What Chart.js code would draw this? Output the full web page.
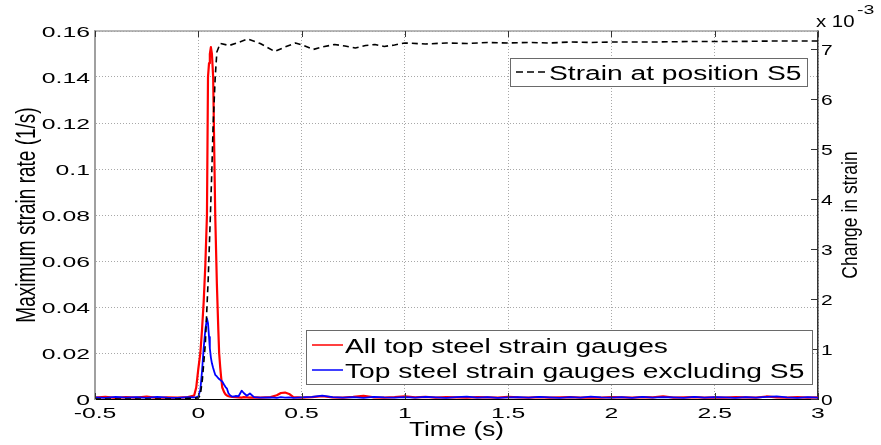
<!DOCTYPE html>
<html>
<head>
<meta charset="utf-8">
<title>Strain rate and strain at S5</title>
<script src="https://cdn.jsdelivr.net/npm/chart.js@4.4.1/dist/chart.umd.min.js"></script>
<style>
  html, body { margin: 0; padding: 0; background: #fff; }
  #wrap { width: 881px; height: 445px; }
</style>
</head>
<body>
<div id="wrap"><canvas id="strain-chart"></canvas></div>
<script>
// time (s) for the two strain-rate traces
const rateTime = [
  -0.5, -0.45, -0.4, -0.35, -0.3, -0.25, -0.2, -0.15, -0.1, -0.05,
  -0.02, -0.01, 0,
  0.01, 0.018, 0.026, 0.034, 0.042, 0.047, 0.052, 0.056, 0.061, 0.066,
  0.072, 0.077, 0.082, 0.09, 0.097, 0.101, 0.106, 0.11, 0.116, 0.125,
  0.132, 0.139, 0.146, 0.155, 0.165, 0.18, 0.195, 0.21, 0.22, 0.235,
  0.25, 0.27, 0.3, 0.35, 0.38, 0.4, 0.42, 0.44, 0.46,
  0.5, 0.55, 0.6, 0.65, 0.7, 0.75, 0.8, 0.85, 0.9, 0.95, 1,
  1.05, 1.1, 1.15, 1.2, 1.25, 1.3, 1.35, 1.4, 1.45, 1.5,
  1.55, 1.6, 1.65, 1.7, 1.75, 1.8, 1.85, 1.9, 1.95, 2,
  2.05, 2.1, 2.15, 2.2, 2.25, 2.3, 2.35, 2.4, 2.45, 2.5,
  2.55, 2.6, 2.65, 2.7, 2.75, 2.8, 2.85, 2.9, 2.95, 3
];

// all top steel strain gauges (1/s)
const allGaugesRate = [
  0.0006, 0.0009, 0.0005, 0.0008, 0.0006, 0.0010, 0.0005, 0.0007, 0.0006, 0.0008,
  0.0015, 0.005, 0.013,
  0.02, 0.03, 0.042, 0.058, 0.08, 0.14, 0.146, 0.15, 0.153, 0.15,
  0.14, 0.11, 0.08, 0.05, 0.03, 0.02, 0.014, 0.01, 0.005, 0.003,
  0.002, 0.0015, 0.0012, 0.001, 0.0009, 0.0008, 0.0007, 0.0006, 0.0008, 0.0007,
  0.0006, 0.0007, 0.0006, 0.0008, 0.0016, 0.0026, 0.0028, 0.0022, 0.0008,
  0.0006, 0.0008, 0.0012, 0.0007, 0.0006, 0.0009, 0.0014, 0.0007, 0.0006, 0.0008, 0.0011,
  0.0007, 0.0009, 0.0006, 0.0008, 0.0007, 0.0006, 0.0008, 0.0007, 0.0006, 0.0009,
  0.0007, 0.0006, 0.0008, 0.0006, 0.0007, 0.0008, 0.0006, 0.0007, 0.0006, 0.0008,
  0.0007, 0.0006, 0.0008, 0.0007, 0.0012, 0.0006, 0.0007, 0.0008, 0.0006, 0.0007,
  0.0006, 0.0008, 0.0007, 0.0006, 0.0011, 0.0007, 0.0006, 0.0008, 0.0006, 0.0007
];

// top steel strain gauges excluding S5 (1/s)
const excludingS5Rate = [
  0.0007, 0.0005, 0.0009, 0.0006, 0.0008, 0.0005, 0.0009, 0.0006, 0.0005, 0.0008,
  0.0007, 0.0008, 0.001,
  0.004, 0.012, 0.022, 0.03, 0.035, 0.033, 0.027, 0.022, 0.018, 0.0155,
  0.0135, 0.012, 0.0105, 0.0098, 0.009, 0.0087, 0.0083, 0.008, 0.0076, 0.0062,
  0.0052, 0.0045, 0.0025, 0.0015, 0.001, 0.0013, 0.0012, 0.0036, 0.0026, 0.0014,
  0.0024, 0.0008, 0.0006, 0.0007, 0.0005, 0.0008, 0.0006, 0.0007, 0.0005,
  0.0007, 0.0009, 0.0015, 0.0008, 0.0006, 0.0008, 0.0005, 0.0009, 0.0007, 0.0006, 0.0008,
  0.0006, 0.0009, 0.0007, 0.0005, 0.0008, 0.0010, 0.0006, 0.0008, 0.0005, 0.0007,
  0.0008, 0.0006, 0.0009, 0.0007, 0.0005, 0.0008, 0.0006, 0.0010, 0.0007, 0.0006,
  0.0008, 0.0005, 0.0009, 0.0006, 0.0008, 0.0007, 0.0005, 0.0009, 0.0006, 0.0008,
  0.0007, 0.0005, 0.0008, 0.0006, 0.0009, 0.0011, 0.0007, 0.0005, 0.0008, 0.0006
];

// strain at S5, in units of 10^-3
const strainTime = [
  -0.5, -0.3, -0.1, 0, 0.01, 0.02, 0.034, 0.048, 0.058, 0.065,
  0.072, 0.082, 0.09, 0.106, 0.15, 0.2, 0.24, 0.3, 0.37, 0.42,
  0.47, 0.51, 0.556, 0.6, 0.66, 0.71, 0.76, 0.81, 0.855, 0.9,
  0.95, 1.0, 1.1, 1.2, 1.3, 1.4, 1.5, 1.6, 1.7, 1.8,
  1.9, 2.0, 2.2, 2.4, 2.6, 2.8, 3.0
];
const strainS5 = [
  0, 0, 0, 0.02, 0.08, 0.4, 1.1, 2.4, 3.6, 4.5,
  5.5, 6.45, 6.95, 7.12, 7.08, 7.15, 7.21, 7.12, 6.96, 7.05,
  7.13, 7.08, 7.0, 7.05, 7.1, 7.07, 7.03, 7.08, 7.1, 7.06,
  7.09, 7.13, 7.11, 7.13, 7.12, 7.14, 7.13, 7.14, 7.13, 7.15,
  7.14, 7.15, 7.15, 7.16, 7.16, 7.17, 7.17
];

const xTitle = 'Time (s)';
const yTitle = 'Maximum strain rate (1/s)';
const y2Title = 'Change in strain';

const FONT = '"Liberation Sans", Arial, sans-serif';

// the reference text is drawn wide, so glyphs get a horizontal stretch
function drawText(ctx, text, x, y, size, stretch, align, rotate) {
  ctx.save();
  ctx.translate(x, y);
  ctx.scale(stretch, 1);
  if (rotate) ctx.rotate(rotate);
  ctx.font = size + 'px ' + FONT;
  ctx.textAlign = align || 'left';
  ctx.textBaseline = 'alphabetic';
  ctx.fillStyle = '#000';
  ctx.fillText(text, 0, 0);
  ctx.restore();
}

function fmt(v, digits) {
  return String(Number(v.toFixed(digits)));
}

function legendBox(ctx, x, y, w, h, rows) {
  ctx.save();
  ctx.fillStyle = '#fff';
  ctx.fillRect(x, y, w, h);
  ctx.strokeStyle = '#6a6a6a';
  ctx.lineWidth = 1;
  ctx.strokeRect(x + 0.5, y + 0.5, w, h);
  rows.forEach(r => {
    ctx.beginPath();
    ctx.strokeStyle = r.color;
    ctx.lineWidth = r.width;
    ctx.setLineDash(r.dash || []);
    ctx.moveTo(x + 6, r.y);
    ctx.lineTo(x + 37, r.y);
    ctx.stroke();
    ctx.setLineDash([]);
    drawText(ctx, r.label, x + 39, r.y + 7.5, 20, 1.41, 'left');
  });
  ctx.restore();
}

const matlabDecor = {
  id: 'matlabDecor',
  afterDraw(chart) {
    const ctx = chart.ctx;
    const area = chart.chartArea;
    const sx = chart.scales.x, sy = chart.scales.y, sy2 = chart.scales.y2;
    const ds = chart.data.datasets;

    ctx.save();
    // top edge of the box
    ctx.strokeStyle = '#a0a0a0';
    ctx.lineWidth = 1.5;
    ctx.beginPath();
    ctx.moveTo(area.left, area.top);
    ctx.lineTo(area.right, area.top);
    ctx.stroke();

    // inward tick marks
    ctx.strokeStyle = '#333';
    ctx.lineWidth = 1;
    sx.ticks.forEach(t => {
      const px = Math.round(sx.getPixelForValue(t.value)) + 0.5;
      ctx.beginPath();
      ctx.moveTo(px, area.top);
      ctx.lineTo(px, area.top + 6);
      ctx.moveTo(px, area.bottom);
      ctx.lineTo(px, area.bottom - 6);
      ctx.stroke();
    });
    sy2.ticks.forEach(t => {
      const py = Math.round(sy2.getPixelForValue(t.value)) + 0.5;
      ctx.beginPath();
      ctx.moveTo(area.right, py);
      ctx.lineTo(area.right - 7, py);
      ctx.stroke();
    });
    ctx.restore();

    // tick labels
    sy.ticks.forEach(t => {
      drawText(ctx, fmt(t.value, 2), area.left - 5, sy.getPixelForValue(t.value) + 5.5, 15, 1.65, 'right');
    });
    sx.ticks.forEach(t => {
      drawText(ctx, fmt(t.value, 1), sx.getPixelForValue(t.value), area.bottom + 18.5, 15, 1.65, 'center');
    });
    sy2.ticks.filter(t => t.value <= 7).forEach(t => {
      drawText(ctx, fmt(t.value, 0), area.right + 3, sy2.getPixelForValue(t.value) + 5.5, 15, 1.4, 'left');
    });
    drawText(ctx, 'x 10', area.right - 2, 27, 17, 1.2, 'left');
    drawText(ctx, '-3', area.right + 39, 14, 13, 1.5, 'left');

    // axis titles
    const midY = (area.top + area.bottom) / 2;
    drawText(ctx, xTitle, (area.left + area.right) / 2, 436, 20, 1.31, 'center');
    drawText(ctx, yTitle, 35, midY, 19, 1.48, 'center', -Math.PI / 2);
    drawText(ctx, y2Title, 857, midY, 17.5, 1.3, 'center', -Math.PI / 2);

    // legends
    legendBox(ctx, 510, 58, 297, 28, [
      { label: ds[2].label, color: '#000', width: 1.3, dash: [7, 4], y: 72 }
    ]);
    legendBox(ctx, 306, 330, 506, 54, [
      { label: ds[0].label, color: '#ff0000', width: 1.5, y: 345 },
      { label: ds[1].label, color: '#0000ff', width: 1.5, y: 370 }
    ]);
  }
};

const gridDots = { color: '#a8a8a8', lineWidth: 1, drawTicks: false };

new Chart(document.getElementById('strain-chart'), {
  type: 'line',
  data: {
    datasets: [
      {
        label: 'All top steel strain gauges',
        data: rateTime.map((t, i) => ({ x: t, y: allGaugesRate[i] })),
        borderColor: '#ff0000',
        borderWidth: 2.2,
        yAxisID: 'y',
        order: 2
      },
      {
        label: 'Top steel strain gauges excluding S5',
        data: rateTime.map((t, i) => ({ x: t, y: excludingS5Rate[i] })),
        borderColor: '#0000ff',
        borderWidth: 1.8,
        yAxisID: 'y',
        order: 1
      },
      {
        label: 'Strain at position S5',
        data: strainTime.map((t, i) => ({ x: t, y: strainS5[i] })),
        borderColor: '#000',
        borderWidth: 1.6,
        borderDash: [6, 4],
        yAxisID: 'y2',
        order: 0
      }
    ]
  },
  options: {
    responsive: true,
    maintainAspectRatio: false,
    animation: false,
    layout: { padding: { top: 31 } },
    elements: {
      point: { radius: 0 },
      line: { tension: 0, borderJoinStyle: 'round' }
    },
    plugins: {
      legend: { display: false },
      tooltip: { enabled: false }
    },
    scales: {
      x: {
        type: 'linear',
        min: -0.5,
        max: 3,
        ticks: { stepSize: 0.5, display: false },
        grid: gridDots,
        border: { color: '#000', width: 1, dash: [1, 2] },
        afterFit: s => { s.height = 46; }
      },
      y: {
        position: 'left',
        min: 0,
        max: 0.16,
        ticks: { stepSize: 0.02, display: false },
        grid: gridDots,
        border: { color: '#a0a0a0', width: 2, dash: [1, 2] },
        afterFit: s => { s.width = 95; }
      },
      y2: {
        position: 'right',
        min: 0,
        max: 7.37,
        ticks: { stepSize: 1, display: false, includeBounds: false },
        grid: { drawOnChartArea: false, drawTicks: false },
        border: { color: '#333', width: 1.5 },
        afterFit: s => { s.width = 63; }
      }
    }
  },
  plugins: [matlabDecor]
});
</script>
</body>
</html>
